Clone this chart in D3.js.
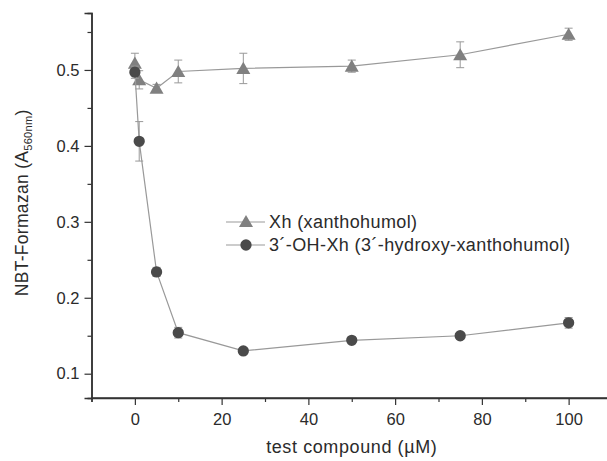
<!DOCTYPE html>
<html>
<head>
<meta charset="utf-8">
<script src="https://cdn.jsdelivr.net/npm/d3@7"></script>
<style>
  body { margin: 0; background: #fff; }
  text { font-family: "Liberation Sans", Arial, sans-serif; fill: #2b2b2b; }
</style>
</head>
<body>
<div id="chart"></div>
<script>
// data
const conc = [0, 1, 5, 10, 25, 50, 75, 100];
const xhVals = [0.509, 0.487, 0.476, 0.498, 0.502, 0.505, 0.520, 0.547];
const xhErr = [0.013, 0.012, 0.005, 0.015, 0.020, 0.008, 0.017, 0.008];
const ohVals = [0.497, 0.406, 0.234, 0.154, 0.130, 0.144, 0.150, 0.167];
const ohErr = [0.008, 0.026, 0.006, 0.007, 0.003, 0.004, 0.004, 0.007];
const xMajor = [0, 20, 40, 60, 80, 100];
const xMinor = [-10, 10, 30, 50, 70, 90, 110];
const yMajor = [0.1, 0.2, 0.3, 0.4, 0.5];
const yMinor = [0.15, 0.25, 0.35, 0.45, 0.55];
const seriesNames = ['Xh (xanthohumol)', '3\u00b4-OH-Xh (3\u00b4-hydroxy-xanthohumol)'];

function draw(){
    const width = 607, height = 461;
    const svg = d3.select('#chart').append('svg')
        .attr('width', width).attr('height', height);

    const x = d3.scaleLinear().domain([-10, 110]).range([91.5, 612]);
    const y = d3.scaleLinear().domain([0.068, 0.575]).range([398, 13]);

    const axisCol = '#333';
    const lineCol = '#999';

    // axes
    const gx = svg.append('g').attr('transform', `translate(0,${y(0.068)})`);
    gx.call(d3.axisBottom(x).tickValues(xMajor).tickSize(7).tickPadding(8).tickFormat(d3.format('d')));
    gx.append('g').call(d3.axisBottom(x).tickValues(xMinor).tickSize(4).tickFormat(''));
    const gy = svg.append('g').attr('transform', `translate(${x(-10)},0)`);
    gy.call(d3.axisLeft(y).tickValues(yMajor).tickSize(7).tickPadding(5).tickFormat(d3.format('.1f')));
    gy.append('g').call(d3.axisLeft(y).tickValues(yMinor).tickSize(4).tickFormat(''));
    svg.selectAll('.domain').attr('stroke', axisCol).attr('stroke-width', 1.5);
    svg.selectAll('.tick line').attr('stroke', axisCol).attr('stroke-width', 1.2);
    svg.selectAll('.tick text').style('font-size', '16.5px').attr('fill', '#2b2b2b');
    gx.select('.domain').attr('d', `M${x(-10)},0H${width + 5}`);

    // axis titles
    svg.append('text').attr('x', x(50)).attr('y', 453)
        .attr('text-anchor', 'middle').style('font-size', '18px').style('letter-spacing', '0.6px')
        .text('test compound (\u00b5M)');
    const yl = svg.append('text')
        .attr('transform', `translate(28,${y(0.325)}) rotate(-90)`)
        .attr('text-anchor', 'middle').style('font-size', '17.5px').style('letter-spacing', '0.3px');
    yl.append('tspan').text('NBT-Formazan (A');
    yl.append('tspan').attr('dy', 4).style('font-size', '11px').text('560nm');
    yl.append('tspan').attr('dy', -4).text(')');

    const series = [
        {vals: xhVals, err: xhErr, shape: d3.symbolTriangle, fill: '#808080'},
        {vals: ohVals, err: ohErr, shape: d3.symbolCircle, fill: '#4a4a4a'}
    ];

    series.forEach(s => {
        const pts = conc.map((c, i) => ({x: c, y: s.vals[i], e: s.err[i]}));
        const g = svg.append('g');
        // error bars
        const eb = g.selectAll('g.err').data(pts).join('g').attr('class', 'err')
            .attr('stroke', lineCol).attr('stroke-width', 1);
        eb.append('line')
            .attr('x1', d => x(d.x)).attr('x2', d => x(d.x))
            .attr('y1', d => y(d.y - d.e)).attr('y2', d => y(d.y + d.e));
        eb.append('line')
            .attr('x1', d => x(d.x) - 4).attr('x2', d => x(d.x) + 4)
            .attr('y1', d => y(d.y + d.e)).attr('y2', d => y(d.y + d.e));
        eb.append('line')
            .attr('x1', d => x(d.x) - 4).attr('x2', d => x(d.x) + 4)
            .attr('y1', d => y(d.y - d.e)).attr('y2', d => y(d.y - d.e));
        // connecting line
        g.append('path').datum(pts)
            .attr('fill', 'none').attr('stroke', lineCol).attr('stroke-width', 1.2)
            .attr('d', d3.line().x(d => x(d.x)).y(d => y(d.y)));
        // markers
        g.selectAll('path.m').data(pts).join('path').attr('class', 'm')
            .attr('transform', d => `translate(${x(d.x)},${y(d.y) + (s.shape === d3.symbolTriangle ? 1.5 : 0)})`)
            .attr('d', d3.symbol().type(s.shape).size(s.shape === d3.symbolTriangle ? 85 : 100))
            .attr('fill', s.fill);
    });

    // legend
    const leg = svg.append('g').attr('transform', 'translate(226,222)');
    series.forEach((s, i) => {
        const row = leg.append('g').attr('transform', `translate(0,${i * 23})`);
        row.append('line').attr('x1', 0).attr('x2', 39).attr('y1', 0).attr('y2', 0)
            .attr('stroke', lineCol).attr('stroke-width', 1.2);
        row.append('path')
            .attr('transform', `translate(20,${s.shape === d3.symbolTriangle ? 1 : 0})`)
            .attr('d', d3.symbol().type(s.shape).size(s.shape === d3.symbolTriangle ? 85 : 100))
            .attr('fill', s.fill);
        row.append('text').attr('x', 43).attr('y', 6)
            .style('font-size', '18px').style('letter-spacing', '0.4px').text(seriesNames[i]);
    });
}

draw();
</script>
</body>
</html>
